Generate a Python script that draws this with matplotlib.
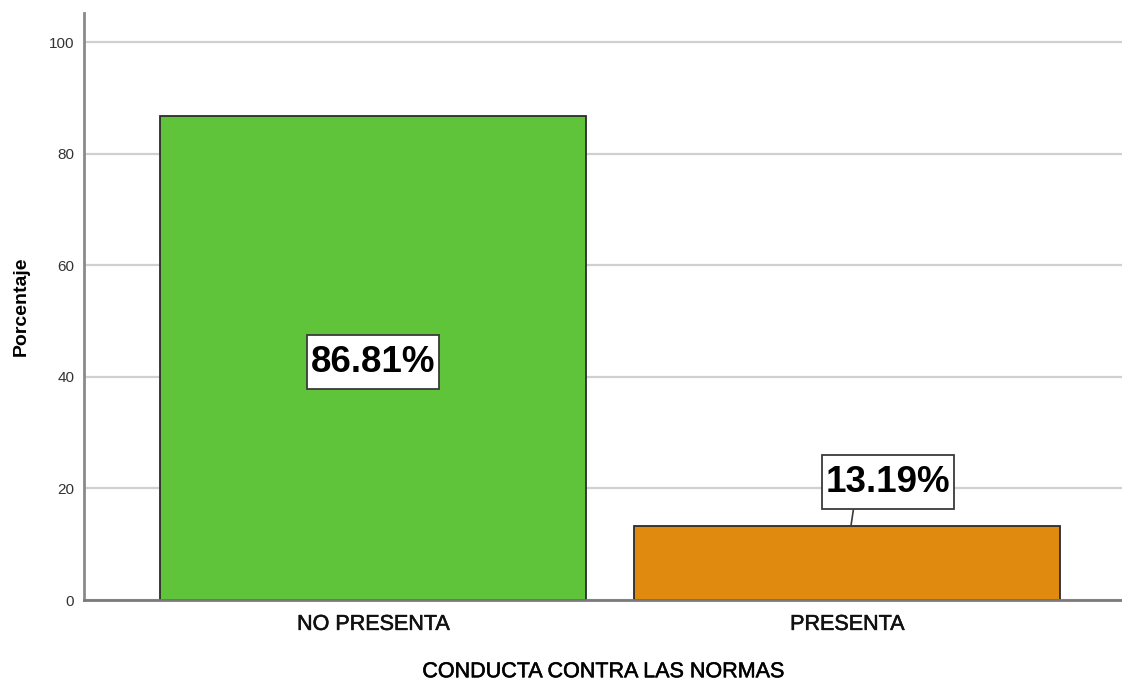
import matplotlib
matplotlib.use("Agg")
import matplotlib.pyplot as plt
from matplotlib import font_manager
import matplotlib.patheffects as pe

categories = ["NO PRESENTA", "PRESENTA"]
values = [86.81, 13.19]
labels = ["86.81%", "13.19%"]
colors = ["#5FC43A", "#E08A10"]
yticks = [0, 20, 40, 60, 80, 100]

names = {f.name for f in font_manager.fontManager.ttflist}
base = "Liberation Sans" if "Liberation Sans" in names else "DejaVu Sans"
plt.rcParams["font.family"] = [base]

W, H, DPI = 1122, 681, 100
fig = plt.figure(figsize=(W / DPI, H / DPI), dpi=DPI)
ax = fig.add_axes([84 / W, 1 - 600 / H, 1 - 84 / W, (600 - 13) / H])

x = list(range(len(categories)))
ax.bar(x, values, width=0.9, color=colors, edgecolor="#2b2b2b", linewidth=1.3, zorder=3)

ax.set_xlim(-0.61, 1.58)
ax.set_ylim(0, 105.2)
ax.set_yticks(yticks)
ax.set_xticks(x)
heavy = [pe.withStroke(linewidth=0.4, foreground="#111111")]
ax.set_xticklabels(categories, fontsize=15.5, color="#111111")
for t in ax.get_xticklabels():
    t.set_path_effects(heavy)
ax.set_yticklabels([str(t) for t in yticks], fontsize=11, color="#333333")
ax.tick_params(axis="both", length=0)
ax.tick_params(axis="y", pad=7)
ax.tick_params(axis="x", pad=10)

ax.grid(axis="y", color="#d0d0d0", linewidth=1.6, zorder=0)
ax.set_axisbelow(True)
for s in ["top", "right"]:
    ax.spines[s].set_visible(False)
ax.spines["left"].set_color("#8a8a8a")
ax.spines["left"].set_linewidth(2)
ax.spines["bottom"].set_color("#7a7a7a")
ax.spines["bottom"].set_linewidth(2)
ax.spines["bottom"].set_zorder(4)

ax.set_ylabel("Porcentaje", fontsize=14, fontweight="bold", labelpad=14)
xl = ax.set_xlabel("CONDUCTA CONTRA LAS NORMAS", fontsize=15.5, labelpad=19)
xl.set_path_effects(heavy)

box = dict(boxstyle="square,pad=0.1", facecolor="white", edgecolor="#3a3a3a",
           linewidth=1.3, mutation_aspect=2.6)
# label inside the first bar
ax.text(x[0], values[0] / 2 - 0.8, labels[0], ha="center", va="center",
        fontsize=26.5, fontweight="bold", bbox=box, zorder=5)
# label above the second bar with leader line
ax.annotate(labels[1], xy=(x[1] + 0.008, values[1]), xytext=(x[1] + 0.086, values[1] + 7.9),
            ha="center", va="center", fontsize=26.5, fontweight="bold",
            bbox=box, zorder=5,
            arrowprops=dict(arrowstyle="-", color="#3a3a3a", linewidth=1.2,
                            relpos=(0.235, 0.0), shrinkA=0, shrinkB=0))

fig.savefig("out.png", dpi=DPI)
